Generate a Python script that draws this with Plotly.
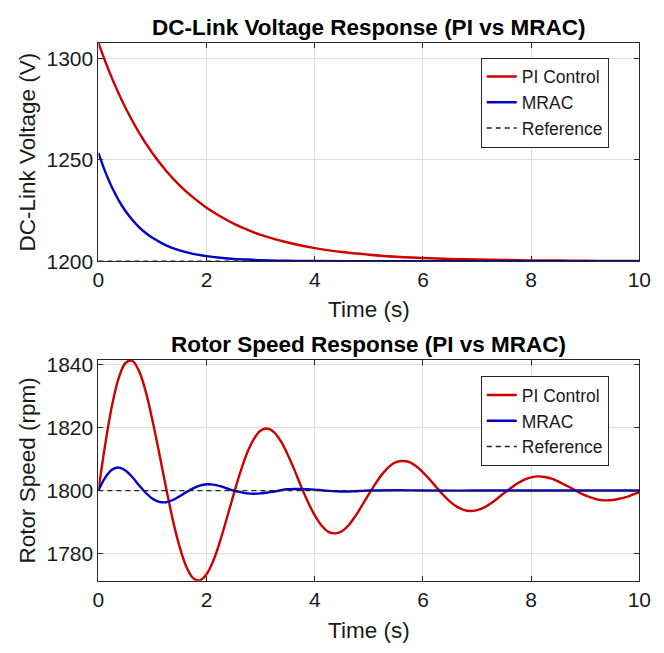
import plotly.graph_objects as go

# ---------------- data ----------------
# DC-link voltage (top panel)
t_v_pi = [0, 0.125, 0.25, 0.375, 0.5, 0.75, 1.0, 1.25, 1.5, 1.75, 2.0, 2.25, 2.5, 2.75,
          3.0, 3.5, 4.0, 4.5, 5.0, 5.5, 6.0, 6.5, 7.0, 7.5, 8.0, 8.5, 9.0, 9.5, 10.0]
v_pi = [1307.5, 1298.5, 1290.2, 1282.6, 1275.6, 1263.4, 1253.2, 1244.6, 1237.4, 1231.4,
        1226.3, 1222.1, 1218.5, 1215.5, 1213.0, 1209.2, 1206.4, 1204.5, 1203.2, 1202.2,
        1201.6, 1201.1, 1200.8, 1200.6, 1200.4, 1200.3, 1200.2, 1200.1, 1200.1]

t_v_mrac = [0, 0.125, 0.25, 0.375, 0.5, 0.625, 0.75, 0.875, 1.0, 1.25, 1.5, 1.75, 2.0,
            2.25, 2.5, 2.75, 3.0, 3.5, 4.0, 5.0, 6.0, 7.0, 8.0, 9.0, 10.0]
v_mrac = [1253.4, 1244.1, 1236.4, 1230.0, 1224.7, 1220.4, 1216.8, 1213.9, 1211.5, 1207.8,
          1205.3, 1203.6, 1202.5, 1201.7, 1201.1, 1200.8, 1200.5, 1200.2, 1200.1, 1200.0,
          1200.0, 1200.0, 1200.0, 1200.0, 1200.0]

t_ref = [0, 10]
v_ref = [1200, 1200]

# Rotor speed (bottom panel), read every 0.125 s
t_w_pi = [i * 0.125 for i in range(81)]
w_pi = [1800.0, 1814.6, 1826.9, 1835.7, 1840.5, 1841.2, 1838.0, 1831.4, 1822.2, 1811.8,
        1800.9, 1790.7, 1782.2, 1775.8, 1772.2, 1771.5, 1773.5, 1777.8, 1784.0, 1791.3,
        1798.8, 1805.9, 1812.0, 1816.4, 1819.1, 1819.7, 1818.5, 1815.6, 1811.4, 1806.5,
        1801.2, 1796.3, 1792.1, 1788.9, 1786.9, 1786.4, 1787.1, 1789.0, 1791.9, 1795.3,
        1798.9, 1802.3, 1805.3, 1807.6, 1809.0, 1809.4, 1809.0, 1807.7, 1805.8, 1803.5,
        1801.0, 1798.6, 1796.5, 1794.9, 1793.9, 1793.5, 1793.8, 1794.6, 1795.9, 1797.5,
        1799.2, 1800.8, 1802.3, 1803.5, 1804.2, 1804.5, 1804.3, 1803.8, 1802.9, 1801.8,
        1800.7, 1799.5, 1798.5, 1797.7, 1797.1, 1796.9, 1797.0, 1797.4, 1797.9, 1798.7,
        1799.5]

t_w_mrac = [i * 0.125 for i in range(41)] + [5.5, 6.0, 7.0, 8.0, 9.0, 10.0]
w_mrac = [1800.0, 1804.1, 1806.6, 1807.3, 1806.4, 1804.3, 1801.7, 1799.3, 1797.4, 1796.4,
          1796.3, 1797.0, 1798.2, 1799.5, 1800.7, 1801.6, 1802.0, 1801.9, 1801.4, 1800.7,
          1800.0, 1799.5, 1799.1, 1799.0, 1799.1, 1799.4, 1799.7, 1800.1, 1800.4, 1800.5,
          1800.5, 1800.4, 1800.3, 1800.1, 1799.9, 1799.8, 1799.7, 1799.7, 1799.8, 1799.9,
          1800.0, 1800.1, 1800.0, 1800.0, 1800.0, 1800.0, 1800.0]

w_ref = [1800, 1800]

x_ticks = [0, 2, 4, 6, 8, 10]
v_ticks = [1200, 1250, 1300]
w_ticks = [1780, 1800, 1820, 1840]

titles = ["DC-Link Voltage Response (PI vs MRAC)", "Rotor Speed Response (PI vs MRAC)"]
ylabels = ["DC-Link Voltage (V)", "Rotor Speed (rpm)"]
xlabel = "Time (s)"
names = ["PI Control", "MRAC", "Reference"]

# ---------------- style ----------------
RED = "#CC0000"
BLUE = "#0000C8"
FONT = "Liberation Sans, Arial, Helvetica, sans-serif"
AX = "#262626"
GRID = "#DEDEDE"
TXT = "#1a1a1a"
W, H = 664, 653

fig = go.Figure()

def add_panel(xa, ya, legend, tpi, ypi, tm, ym, yref):
    fig.add_trace(go.Scatter(x=tpi, y=ypi, mode="lines", name=names[0], xaxis=xa, yaxis=ya,
                             legend=legend, line=dict(color=RED, width=2.4, shape="spline")))
    fig.add_trace(go.Scatter(x=tm, y=ym, mode="lines", name=names[1], xaxis=xa, yaxis=ya,
                             legend=legend, line=dict(color=BLUE, width=2.4, shape="spline")))
    fig.add_trace(go.Scatter(x=t_ref, y=yref, mode="lines", name=names[2], xaxis=xa, yaxis=ya,
                             legend=legend, line=dict(color="#222222", width=1.3, dash="5px,4px")))

add_panel("x", "y", "legend", t_v_pi, v_pi, t_v_mrac, v_mrac, v_ref)
add_panel("x2", "y2", "legend2", t_w_pi, w_pi, t_w_mrac, w_mrac, w_ref)

# pixel geometry of the two plot areas
px_l, px_r = 95, 651
top_t, top_b = 38, 262
bot_t, bot_b = 363, 590

def py(v):
    return 1 - v / H

xdom = [px_l / W, px_r / W]

axis_common = dict(showline=True, linecolor=AX, linewidth=1, mirror="ticks",
                   ticks="inside", ticklen=5, tickcolor=AX, showgrid=True, gridcolor=GRID,
                   gridwidth=1, zeroline=False,
                   tickfont=dict(family=FONT, size=21, color=TXT))

leg_common = dict(xanchor="left", yanchor="top", bgcolor="white", bordercolor=AX,
                  borderwidth=1, font=dict(family=FONT, size=17.5, color=TXT),
                  tracegroupgap=0, itemwidth=30)

fig.update_layout(
    width=W, height=H, margin=dict(l=0, r=0, t=0, b=0),
    paper_bgcolor="white", plot_bgcolor="white",
    font=dict(family=FONT, color=TXT),
    xaxis=dict(domain=xdom, anchor="y", range=[0, 10], tickvals=x_ticks, **axis_common),
    yaxis=dict(domain=[py(top_b), py(top_t)], anchor="x", range=[1200, 1307.5],
               tickvals=v_ticks, **axis_common),
    xaxis2=dict(domain=xdom, anchor="y2", range=[0, 10], tickvals=x_ticks, **axis_common),
    yaxis2=dict(domain=[py(bot_b), py(bot_t)], anchor="x2", range=[1771.4, 1841.6],
                tickvals=w_ticks, **axis_common),
    legend=dict(x=488 / W, y=py(53), **leg_common),
    legend2=dict(x=488 / W, y=py(380), **leg_common),
    showlegend=True,
)

ann = []
ann.append(dict(text="<b>" + titles[0] + "</b>", x=(px_l + px_r) / 2 / W, y=py(22)))
ann.append(dict(text="<b>" + titles[1] + "</b>", x=(px_l + px_r) / 2 / W, y=py(348)))
for a in ann:
    a.update(xref="paper", yref="paper", xanchor="center", yanchor="middle", showarrow=False,
             font=dict(family=FONT, size=22.5, color="black"))
labs = [
    dict(text=xlabel, x=(px_l + px_r) / 2 / W, y=py(312), textangle=0),
    dict(text=xlabel, x=(px_l + px_r) / 2 / W, y=py(641), textangle=0),
    dict(text=ylabels[0], x=22 / W, y=py((top_t + top_b) / 2), textangle=-90),
    dict(text=ylabels[1], x=22 / W, y=py((bot_t + bot_b) / 2), textangle=-90),
]
for a in labs:
    a.update(xref="paper", yref="paper", xanchor="center", yanchor="middle", showarrow=False,
             font=dict(family=FONT, size=22.5, color=TXT))
fig.update_layout(annotations=ann + labs)

fig.write_html("out.html")
